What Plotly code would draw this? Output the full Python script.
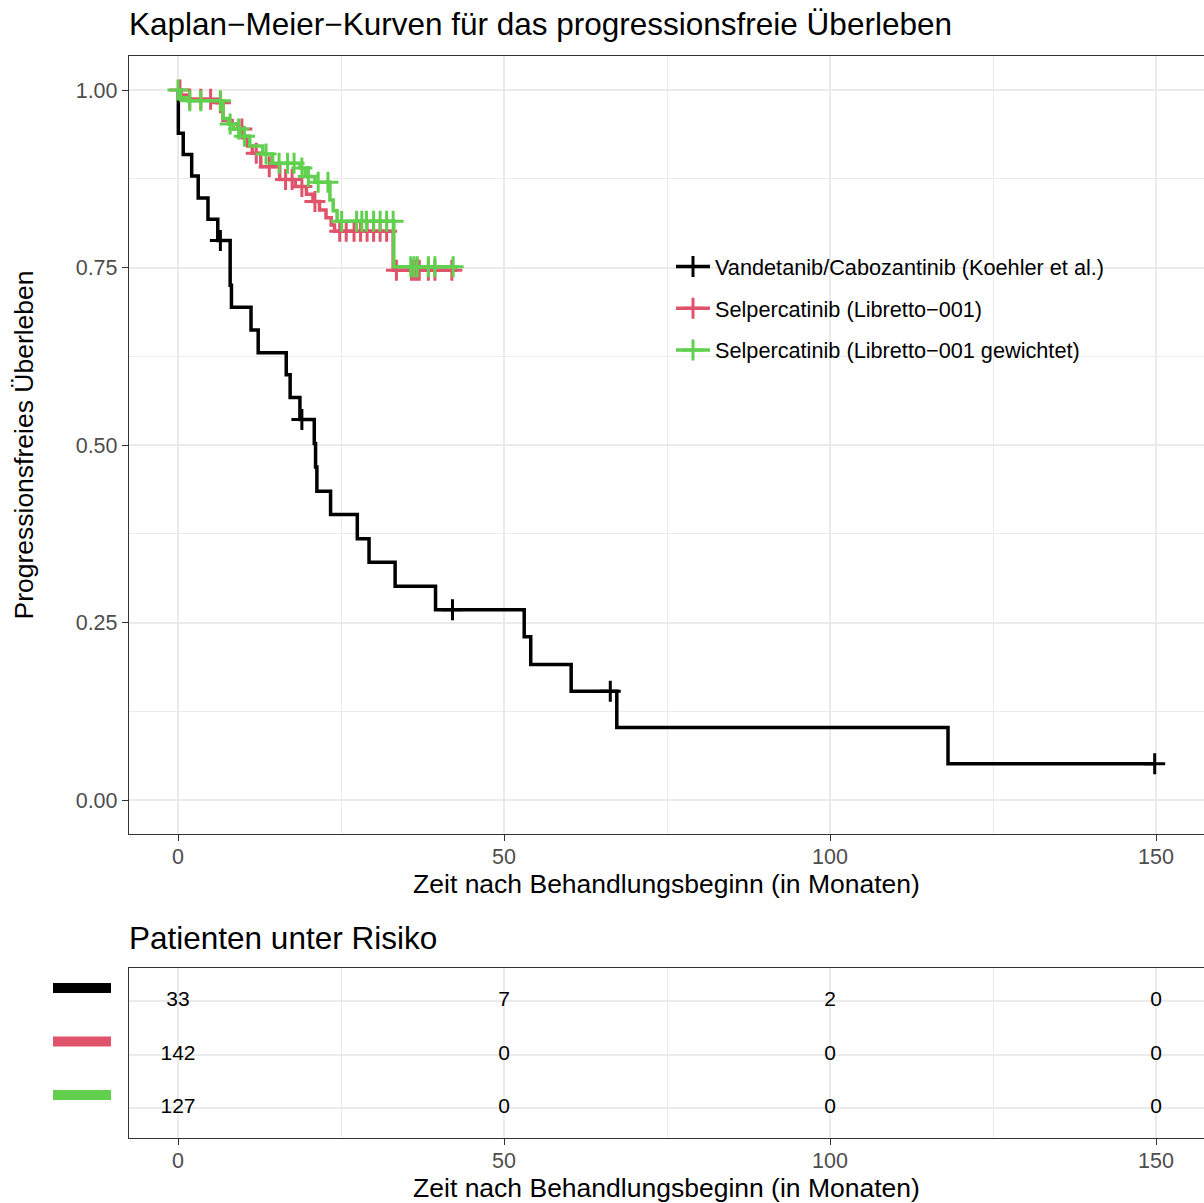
import numpy as np
import plotly.graph_objects as go

# ---------------- data ----------------
group_names = [
    "Vandetanib/Cabozantinib (Koehler et al.)",
    "Selpercatinib (Libretto\u2212001)",
    "Selpercatinib (Libretto\u2212001 gewichtet)",
]
group_colors = ["#000000", "#DF536B", "#61D04F"]

# Kaplan-Meier step points (time in months, survival after the step)
black_t = [0, 0.05, 0.8, 2.1, 3.1, 4.6, 6.1, 8.0, 8.2, 11.2, 12.3, 16.6, 17.2, 18.7,
           20.9, 21.1, 21.3, 23.4, 27.5, 29.3, 33.3, 39.5, 53.1, 54.1, 60.3, 67.3, 118.1, 149.8]
black_s = [1.0, 0.939, 0.909, 0.879, 0.848, 0.818, 0.788, 0.725, 0.694, 0.662, 0.630, 0.599,
           0.567, 0.536, 0.502, 0.469, 0.435, 0.402, 0.368, 0.335, 0.301, 0.268, 0.230, 0.191,
           0.153, 0.102, 0.051, 0.051]
black_censor_t = [6.5, 19.0, 42.1, 66.3, 149.8]

red_t = [0, 0.5, 1.5, 6.0, 6.9, 8.3, 9.2, 10.0, 10.7, 11.4, 12.7, 15.6, 18.0, 19.7, 20.7,
         21.7, 22.7, 23.5, 24.0, 33.0, 42.8]
red_s = [1.0, 0.993, 0.987, 0.982, 0.957, 0.952, 0.945, 0.935, 0.921, 0.911, 0.892, 0.874,
         0.864, 0.853, 0.843, 0.831, 0.820, 0.810, 0.801, 0.746, 0.746]
red_censor_t = [0.3, 1.8, 3.5, 5.0, 6.5, 9.8, 12.0, 14.0, 16.5, 17.5, 19.0, 21.0, 24.8, 25.8,
                27.0, 28.0, 29.0, 30.0, 31.0, 32.0, 33.5, 35.8, 36.2, 36.6, 37.0, 38.4, 39.4, 42.0]

green_t = [0, 0.4, 1.5, 6.9, 7.8, 8.5, 9.5, 11.0, 13.0, 14.5, 18.7, 19.5, 21.0, 23.3, 23.8,
           24.4, 33.1, 43.0]
green_s = [1.0, 0.989, 0.985, 0.960, 0.952, 0.945, 0.935, 0.921, 0.910, 0.897, 0.890, 0.878,
           0.870, 0.845, 0.830, 0.815, 0.751, 0.751]
green_censor_t = [0.0, 1.8, 3.5, 6.5, 8.0, 9.3, 10.2, 13.5, 15.5, 16.8, 17.8, 19.0, 20.0, 21.5,
                  23.0, 25.1, 27.4, 28.2, 28.9, 30.0, 31.0, 32.0, 33.0, 35.7, 36.2, 36.7, 38.4,
                  39.4, 42.2]

# risk table
risk_times = [0, 50, 100, 150]
risk_black = [33, 7, 2, 0]
risk_red = [142, 0, 0, 0]
risk_green = [127, 0, 0, 0]

x_ticks = [0, 50, 100, 150]
y_ticks = [0.0, 0.25, 0.5, 0.75, 1.0]

title_text = "Kaplan\u2212Meier\u2212Kurven f\u00fcr das progressionsfreie \u00dcberleben"
xlab = "Zeit nach Behandlungsbeginn (in Monaten)"
ylab = "Progressionsfreies \u00dcberleben"
risk_title = "Patienten unter Risiko"

# ---------------- figure ----------------
FONT = "Liberation Sans, Arial, Helvetica, sans-serif"
W, H = 1204, 1203
L, R, T, B = 129, 0, 56, 65
PW = W - L - R
plot_h = H - T - B  # 1082
main_bottom = (1138 - 834) / plot_h
risk_top = (1138 - 968) / plot_h
LW = 3.5
MS = 15
MW = 3


def step_value(ts, ss, t):
    idx = np.searchsorted(np.asarray(ts), t, side="right") - 1
    return [ss[i] for i in idx]


series = [
    (black_t, black_s, black_censor_t),
    (red_t, red_s, red_censor_t),
    (green_t, green_s, green_censor_t),
]

fig = go.Figure()

for (ts, ss, cts), name, col in zip(series, group_names, group_colors):
    fig.add_trace(go.Scatter(
        x=ts, y=ss, mode="lines", line=dict(color=col, width=LW, shape="hv"),
        showlegend=False, hoverinfo="skip", xaxis="x", yaxis="y"))
    fig.add_trace(go.Scatter(
        x=cts, y=step_value(ts, ss, cts), mode="markers",
        marker=dict(symbol="cross-thin", size=MS, color=col, line=dict(color=col, width=MW)),
        showlegend=False, hoverinfo="skip", xaxis="x", yaxis="y"))

# legend-only entries
for i, (name, col) in enumerate(zip(group_names, group_colors)):
    fig.add_trace(go.Scatter(
        x=[None], y=[None], mode="lines+markers", name=name, legendgroup=f"g{i}",
        line=dict(color=col, width=LW),
        marker=dict(symbol="cross-thin", size=MS, color=col, line=dict(color=col, width=MW)),
        xaxis="x", yaxis="y"))

# risk table numbers
for name, vals in zip(group_names, [risk_black, risk_red, risk_green]):
    fig.add_trace(go.Scatter(
        x=risk_times, y=[name] * len(risk_times), text=[str(v) for v in vals],
        mode="text", textposition="middle center",
        textfont=dict(size=21, color="black", family=FONT),
        showlegend=False, hoverinfo="skip", xaxis="x2", yaxis="y2"))

# colour keys for the risk table rows
for i, col in enumerate(group_colors):
    fig.add_shape(type="line", xref="paper", yref="y2",
                  x0=(53 - L) / PW, x1=(111 - L) / PW,
                  y0=i - 0.243, y1=i - 0.243, line=dict(color=col, width=10))

# white legend background box (hides grid lines behind the legend)
fig.add_shape(type="rect", xref="paper", yref="paper", layer="between",
              x0=(645 - L) / PW, x1=(1118 - L) / PW,
              y0=(1138 - 385) / plot_h, y1=(1138 - 240) / plot_h,
              fillcolor="white", line=dict(width=0))

x_range = [-49 / 6.52, (W - R - 178) / 6.52]

common_x = dict(
    range=x_range, tickmode="array", tickvals=x_ticks,
    ticks="outside", ticklen=6, tickcolor="#333333", tickwidth=1.3,
    ticklabelstandoff=-3,
    tickfont=dict(size=21.5, color="#4D4D4D", family=FONT),
    showgrid=True, gridcolor="#EBEBEB", gridwidth=2,
    minor=dict(tickmode="array", tickvals=[25, 75, 125], showgrid=True,
               gridcolor="#EBEBEB", gridwidth=1.3, ticks=""),
    showline=True, linecolor="#333333", linewidth=1.3, mirror=True,
    zeroline=False, automargin=False,
)

fig.update_layout(
    width=W, height=H,
    margin=dict(l=L, r=R, t=T, b=B),
    paper_bgcolor="white", plot_bgcolor="white",
    font=dict(family=FONT, color="black"),
    hovermode=False,
    title=dict(text=title_text, x=L / W, xanchor="left", xref="container",
               y=1 - 24 / H, yanchor="middle", yref="container",
               font=dict(size=31.5, color="black", family=FONT)),
    xaxis=dict(domain=[0, 1], anchor="y",
               title=dict(text=xlab, font=dict(size=26.5, color="black", family=FONT), standoff=6),
               **common_x),
    yaxis=dict(domain=[main_bottom, 1], anchor="x",
               range=[-34 / 710, 1 + 34 / 710],
               tickmode="array", tickvals=y_ticks, tickformat=".2f",
               ticks="outside", ticklen=6, tickcolor="#333333", tickwidth=1.3,
               tickfont=dict(size=21.5, color="#4D4D4D", family=FONT),
               showgrid=True, gridcolor="#EBEBEB", gridwidth=2,
               minor=dict(tickmode="array", tickvals=[0.125, 0.375, 0.625, 0.875],
                          showgrid=True, gridcolor="#EBEBEB", gridwidth=1.3, ticks=""),
               showline=True, linecolor="#333333", linewidth=1.3, mirror=False,
               zeroline=False, automargin=False,
               title=dict(text=ylab, font=dict(size=26.5, color="black", family=FONT), standoff=34)),
    xaxis2=dict(domain=[0, 1], anchor="y2",
                title=dict(text=xlab, font=dict(size=26.5, color="black", family=FONT), standoff=10),
                **common_x),
    yaxis2=dict(domain=[0, risk_top], anchor="x2", type="category",
                categoryorder="array", categoryarray=group_names,
                range=[2 + 30 / 53.5, -33 / 53.5],
                showticklabels=False, ticks="",
                showgrid=True, gridcolor="#EBEBEB", gridwidth=2,
                showline=True, linecolor="#333333", linewidth=1.3, mirror=False,
                zeroline=False, automargin=False),
    legend=dict(x=(671 - L) / PW, y=(1138 - 246) / plot_h, xanchor="left", yanchor="top",
                xref="paper", yref="paper", itemwidth=34,
                bgcolor="rgba(255,255,255,0)", borderwidth=0, traceorder="grouped",
                tracegroupgap=10.5,
                font=dict(size=21.7, color="black", family=FONT)),
    annotations=[dict(text=risk_title, xref="paper", yref="paper", x=0, xanchor="left",
                      xshift=-2, y=(1138 - 938) / plot_h, yanchor="middle", showarrow=False,
                      font=dict(size=31.5, color="black", family=FONT))],
)

fig.write_html("out.html", config={"displayModeBar": False},
               post_script="document.body.style.margin='0px';")
